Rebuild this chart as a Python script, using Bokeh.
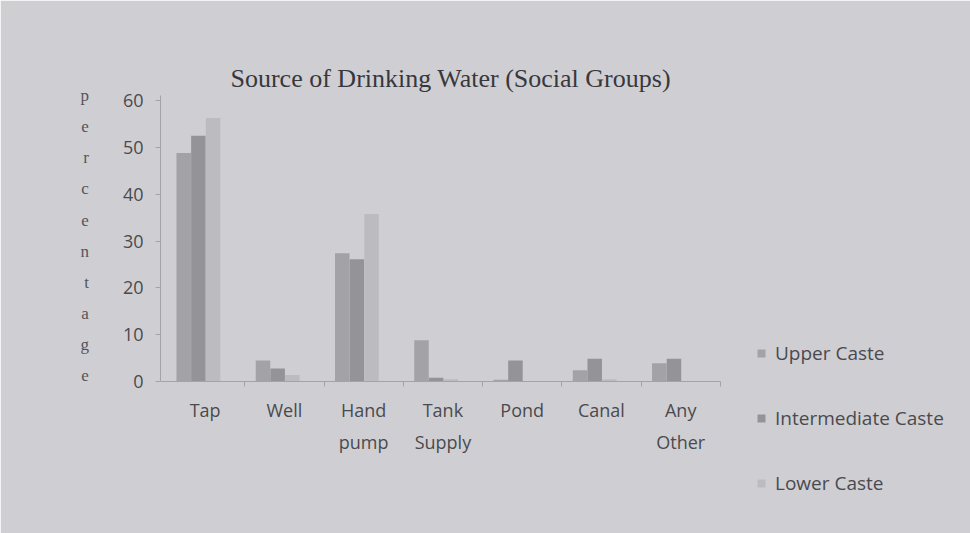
from bokeh.plotting import figure
from bokeh.models import Range1d, Legend, LegendItem, ColumnDataSource, FixedTicker
from bokeh.transform import dodge
from bokeh.embed import file_html
from bokeh.resources import INLINE

categories = ["Tap", "Well", "Hand\npump", "Tank\nSupply", "Pond", "Canal", "Any\nOther"]
upper_caste = [48.8, 4.5, 27.4, 8.8, 0.4, 2.4, 3.9]
intermediate_caste = [52.5, 2.8, 26.1, 0.8, 4.5, 4.9, 4.9]
lower_caste = [56.3, 1.4, 35.8, 0.5, 0.0, 0.5, 0.0]
series_names = ["Upper Caste", "Intermediate Caste", "Lower Caste"]
y_ticks = [0, 10, 20, 30, 40, 50, 60]

BG = "#cfcfd3"
TXT = "#4a4a4e"

n = len(categories)
centers = [i + 0.5 for i in range(n)]
boundaries = list(range(1, n + 1))
source = ColumnDataSource(dict(x=centers, upper=upper_caste,
                               inter=intermediate_caste, lower=lower_caste))

X0, X1 = -0.063, 10.03
Y0, Y1 = -25.4, 61.1
p = figure(x_range=Range1d(X0, X1), y_range=Range1d(Y0, Y1), width=970, height=533,
           output_backend="svg", toolbar_location=None,
           min_border_left=160, min_border_right=10, min_border_top=95,
           min_border_bottom=33)

p.background_fill_color = BG
p.border_fill_color = BG
p.outline_line_color = BG
p.outline_line_width = 3
p.xgrid.grid_line_color = None
p.ygrid.grid_line_color = None

colors = ["#a3a3a7", "#949498", "#bcbcc0"]
fields = ["upper", "inter", "lower"]
offsets = [-0.27, -0.085, 0.10]
renderers = []
for f, c, o in zip(fields, colors, offsets):
    r = p.vbar(x=dodge("x", o), top=f, width=0.183, bottom=0,
               source=source, fill_color=c, line_color=None)
    renderers.append(r)

p.title.text = "Source of Drinking Water (Social Groups)"
p.title.text_font = "Liberation Serif"
p.title.text_font_size = "26px"
p.title.text_font_style = "normal"
p.title.text_color = "#38383c"
p.title.align = "left"
p.title.offset = 70
p.title.standoff = 5

# y axis
ya = p.yaxis[0]
ya.ticker = FixedTicker(ticks=y_ticks)
ya.bounds = (0, Y1)
ya.axis_line_color = "#a4a4a8"
ya.major_tick_line_color = "#a4a4a8"
ya.major_tick_out = 5
ya.major_tick_in = 0
ya.minor_tick_line_color = None
ya.major_label_text_font = "Open Sans"
ya.major_label_text_font_size = "18px"
ya.major_label_text_color = TXT
ya.major_label_standoff = 12
ya.axis_label = "\n".join(list("percentage")) + "\n\n\n\n"
ya.axis_label_orientation = "horizontal"
ya.axis_label_text_font = "Liberation Serif"
ya.axis_label_text_font_size = "17px"
ya.axis_label_text_font_style = "normal"
ya.axis_label_text_color = "#555559"
ya.axis_label_text_line_height = 1.64
ya.axis_label_standoff = 31

# x axis (category axis at y = 0)
xa = p.xaxis[0]
xa.fixed_location = 0
xa.bounds = (X0, n)
xa.ticker = FixedTicker(ticks=centers, minor_ticks=boundaries)
xa.major_label_overrides = {c: lab for c, lab in zip(centers, categories)}
xa.axis_line_color = "#a4a4a8"
xa.major_tick_line_color = None
xa.minor_tick_line_color = "#a4a4a8"
xa.minor_tick_out = 5
xa.minor_tick_in = 0
xa.major_label_text_font = "Open Sans"
xa.major_label_text_font_size = "18px"
xa.major_label_text_color = TXT
xa.major_label_text_line_height = 1.35
xa.major_label_standoff = 10

legend = Legend(items=[LegendItem(label=nm, renderers=[r]) for nm, r in zip(series_names, renderers)],
                location=(596, 4))
legend.background_fill_alpha = 0
legend.border_line_color = None
legend.label_text_font = "Open Sans"
legend.label_text_font_size = "19px"
legend.label_text_color = TXT
legend.glyph_width = 10
legend.glyph_height = 10
legend.label_height = 20
legend.spacing = 39
legend.padding = 0
legend.margin = 0
legend.label_standoff = 9
legend.orientation = "vertical"
p.add_layout(legend)

open("out.html", "w").write(file_html(p, INLINE))
